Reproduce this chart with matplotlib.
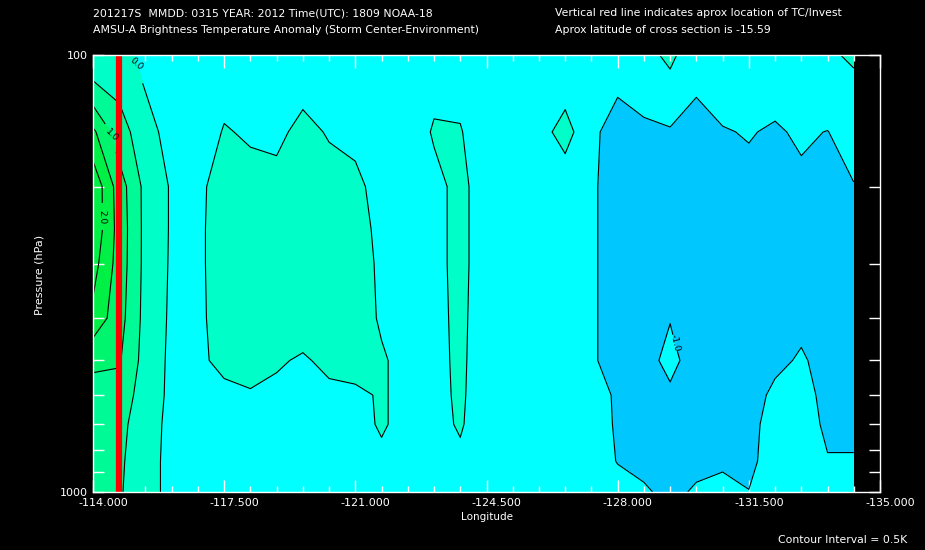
import numpy as np
import matplotlib
matplotlib.use('Agg')
import matplotlib.pyplot as plt
from matplotlib.ticker import FixedLocator, NullFormatter, FuncFormatter
from matplotlib.transforms import ScaledTranslation

# cross-section grid: longitude every 0.7 deg, AMSU pressure levels
lon = np.round(-114.0 - 0.7 * np.arange(30), 1)
pres = [100, 150, 200, 250, 300, 400, 500, 600, 700, 850, 1000]
storm_lon = -114.7

# temperature anomaly (K), one list per longitude column, top (100 hPa) to bottom (1000 hPa)
anom_cols = [
    [0.05, 1.6, 2.4, 2.4, 2.2, 1.85, 1.05, 0.9, 0.85, 0.8, 0.75],
    [0.2, 0.72, 1.25, 1.3, 1.28, 1.2, 1.05, 0.8, 0.65, 0.58, 0.55],
    [-0.15, 0.2, 0.35, 0.35, 0.35, 0.33, 0.3, 0.25, 0.2, 0.2, 0.2],
    [-0.3, -0.2, -0.05, -0.05, -0.06, -0.08, -0.1, -0.1, -0.12, -0.15, -0.15],
    [-0.3, -0.25, -0.1, -0.1, -0.1, -0.12, -0.15, -0.2, -0.2, -0.2, -0.2],
    [-0.2, 0.03, 0.2, 0.25, 0.25, 0.25, 0.2, -0.2, -0.25, -0.3, -0.3],
    [-0.3, -0.05, 0.15, 0.2, 0.25, 0.25, 0.2, -0.05, -0.25, -0.3, -0.3],
    [-0.3, -0.08, 0.12, 0.2, 0.2, 0.2, 0.05, -0.1, -0.25, -0.3, -0.3],
    [-0.2, 0.1, 0.2, 0.2, 0.2, 0.2, -0.05, -0.2, -0.3, -0.3, -0.3],
    [-0.3, -0.03, 0.15, 0.2, 0.2, 0.2, 0.1, -0.1, -0.25, -0.3, -0.3],
    [-0.3, -0.1, 0.1, 0.15, 0.2, 0.2, 0.2, -0.1, -0.15, -0.25, -0.3],
    [-0.3, -0.25, -0.16, -0.1, -0.08, -0.05, 0.05, 0.05, 0.05, -0.1, -0.2],
    [-0.3, -0.3, -0.25, -0.2, -0.2, -0.2, -0.15, -0.15, -0.15, -0.2, -0.25],
    [-0.2, 0.05, -0.15, -0.15, -0.15, -0.15, -0.15, -0.15, -0.15, -0.2, -0.25],
    [-0.2, 0.03, 0.15, 0.15, 0.15, 0.12, 0.1, 0.08, 0.05, -0.1, -0.2],
    [-0.3, -0.3, -0.3, -0.3, -0.3, -0.3, -0.3, -0.3, -0.3, -0.3, -0.3],
    [-0.3, -0.3, -0.35, -0.3, -0.3, -0.3, -0.3, -0.3, -0.3, -0.3, -0.3],
    [-0.3, -0.2, -0.3, -0.3, -0.3, -0.3, -0.3, -0.3, -0.3, -0.3, -0.3],
    [-0.4, 0.2, -0.35, -0.3, -0.3, -0.3, -0.3, -0.3, -0.3, -0.3, -0.3],
    [-0.3, -0.4, -0.42, -0.42, -0.42, -0.42, -0.42, -0.35, -0.3, -0.25, -0.25],
    [-0.3, -0.7, -0.75, -0.75, -0.75, -0.75, -0.75, -0.55, -0.55, -0.52, -0.3],
    [-0.15, -0.6, -0.75, -0.75, -0.75, -0.75, -0.8, -0.75, -0.7, -0.6, -0.45],
    [0.1, -0.55, -0.7, -0.75, -0.8, -0.98, -1.15, -0.9, -0.75, -0.7, -0.6],
    [-0.3, -0.7, -0.75, -0.75, -0.75, -0.75, -0.75, -0.75, -0.7, -0.6, -0.45],
    [-0.3, -0.52, -0.7, -0.75, -0.75, -0.75, -0.75, -0.75, -0.7, -0.6, -0.3],
    [-0.3, -0.48, -0.59, -0.7, -0.75, -0.75, -0.75, -0.7, -0.65, -0.6, -0.49],
    [-0.3, -0.54, -0.7, -0.7, -0.7, -0.7, -0.6, -0.4, -0.3, -0.3, -0.3],
    [-0.3, -0.45, -0.575, -0.65, -0.65, -0.6, -0.45, -0.4, -0.35, -0.3, -0.3],
    [-0.05, -0.51, -0.65, -0.7, -0.7, -0.7, -0.65, -0.58, -0.56, -0.48, -0.45],
    [0.05, -0.3, -0.52, -0.65, -0.7, -0.7, -0.65, -0.6, -0.56, -0.48, -0.45],
]

fill_levels = [-3.0, -1.0, -0.5, 0.0, 0.5, 1.0, 1.5, 2.0, 3.0]
fill_colors = ['#00ffff', '#00c8ff', '#00ffff', '#00ffc8',
               '#00fa96', '#00f56e', '#00f046', '#00f046']
label_levels = [-1.0, 0.0, 1.0, 2.0]
other_levels = [-0.5, 0.5, 1.5]

x_major = [-114.0, -117.5, -121.0, -124.5, -128.0, -131.5, -135.0]
p_minor = [200, 300, 400, 500, 600, 700, 800, 900]

anom = np.array(anom_cols).T

fig = plt.figure(figsize=(9.25, 5.5), dpi=100, facecolor='black')
ax = fig.add_axes([93/925, 58/550, 787/925, 437/550])
ax.set_facecolor('black')

ax.contourf(lon, pres, anom, levels=fill_levels, colors=fill_colors)
ax.contour(lon, pres, anom, levels=other_levels, colors='black', linewidths=0.8,
           negative_linestyles='solid')
cs = ax.contour(lon, pres, anom, levels=label_levels, colors='black', linewidths=0.8,
                negative_linestyles='solid')
ax.clabel(cs, fmt='%.1f', fontsize=6.5, inline=True, inline_spacing=1,
          manual=[(-115.1, 111), (-114.4, 158), (-114.1, 235), (-129.6, 455)])

ax.axvline(storm_lon, color='red', lw=4.5)

ax.set_yscale('log')
ax.set_xlim(-114, -135)
ax.set_ylim(1000, 100)

ax.xaxis.set_major_locator(FixedLocator(x_major))
ax.xaxis.set_minor_locator(FixedLocator(np.arange(-114, -135.01, -0.7)))
ax.xaxis.set_major_formatter(FuncFormatter(lambda v, pos: '%.3f' % v))
ax.yaxis.set_major_locator(FixedLocator([100, 1000]))
ax.yaxis.set_minor_locator(FixedLocator(p_minor))
ax.yaxis.set_major_formatter(FuncFormatter(lambda v, pos: '%d' % v))
ax.yaxis.set_minor_formatter(NullFormatter())

ax.tick_params(which='both', direction='in', colors='white', top=True, right=True,
               labelsize=8, width=1)
ax.tick_params(axis='x', which='major', length=9, pad=4)
ax.tick_params(axis='x', which='minor', length=4)
ax.tick_params(axis='y', which='both', length=8, pad=4)
for lab in ax.get_xticklabels():
    lab.set_transform(lab.get_transform() + ScaledTranslation(0.10, 0, fig.dpi_scale_trans))

for s in ax.spines.values():
    s.set_color('white')
    s.set_linewidth(1)

ax.set_xlabel('Longitude', color='white', fontsize=7.5, labelpad=1)
ax.xaxis.set_label_coords(0.5, -0.045)
fig.text(40/925, 1 - 275/550, 'Pressure (hPa)', color='white', fontsize=8,
         rotation=90, ha='center', va='center')

fig.text(93/925, 1 - 13/550, '201217S  MMDD: 0315 YEAR: 2012 Time(UTC): 1809 NOAA-18',
         color='white', fontsize=7.8, va='center')
fig.text(93/925, 1 - 30/550, 'AMSU-A Brightness Temperature Anomaly (Storm Center-Environment)',
         color='white', fontsize=7.8, va='center')
fig.text(555/925, 1 - 13/550, 'Vertical red line indicates aprox location of TC/Invest',
         color='white', fontsize=7.8, va='center')
fig.text(555/925, 1 - 30/550, 'Aprox latitude of cross section is -15.59',
         color='white', fontsize=7.8, va='center')
fig.text(778/925, 1 - 540/550, 'Contour Interval = 0.5K', color='white', fontsize=7.8,
         va='center')

fig.savefig('out.png', dpi=100, facecolor='black')
